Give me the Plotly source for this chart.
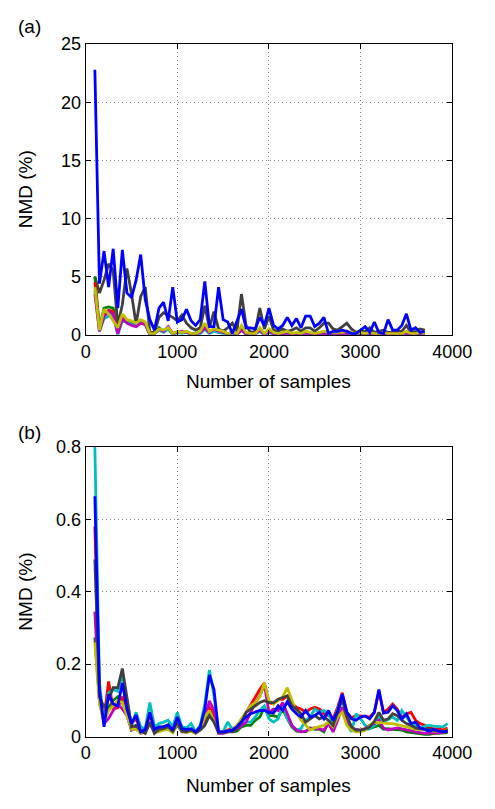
import plotly.graph_objects as go

# ---------------- data ----------------
samples_a = list(range(100, 3701, 50))
samples_b = list(range(100, 3951, 50))

a_blue = [22.8, 4.4, 7.2, 4.1, 7.4, 2.3, 7.3, 3.6, 3.2, 4.7,
          6.9, 3.0, 1.3, 0.4, 2.3, 2.8, 1.2, 4.1, 1.1, 1.3,
          2.2, 1.2, 0.8, 1.3, 4.6, 0.7, 0.7, 4.1, 1.3, 1.1,
          0.1, 1.2, 2.2, 0.6, 0.6, 0.5, 1.5, 0.8, 2.3, 0.8,
          0.5, 0.8, 1.5, 0.8, 1.4, 0.6, 1.6, 1.6, 0.7, 1.0,
          1.5, 0.1, 0.3, 0.3, 0.4, 0.3, 0.1, 0.1, 0.4, 0.7,
          0.2, 1.1, 0.2, 0.1, 1.3, 0.4, 0.4, 0.8, 1.8, 0.4,
          0.6, 0.2, 0.3]
a_gray = [5.0, 3.6, 4.7, 6.1, 5.5, 0.8, 2.6, 5.7, 3.5, 0.9,
          3.3, 4.1, 0.2, 0.2, 1.5, 1.9, 1.7, 1.5, 1.2, 1.7,
          1.0, 0.6, 0.4, 0.6, 2.5, 0.6, 2.0, 0.5, 0.3, 0.6,
          1.0, 0.3, 3.5, 0.8, 0.2, 0.3, 2.3, 0.5, 1.6, 0.4,
          0.3, 0.5, 0.3, 0.4, 0.6, 0.3, 0.6, 0.6, 0.3, 0.6,
          1.0, 1.0, 0.5, 0.4, 0.7, 1.0, 0.5, 0.2, 0.3, 0.3,
          0.6, 0.2, 0.3, 0.4, 0.2, 0.2, 0.3, 0.3, 0.8, 0.2,
          0.3, 0.5, 0.4]
a_green = [5.0, 0.6, 2.3, 2.4, 2.3, 0.3, 1.7, 1.2, 1.0, 0.8,
           1.1, 1.0, 0.1, 0.1, 0.6, 0.3, 0.5, 0.1, 0.2, 0.2,
           0.2, 0.1, 0.1, 0.2, 0.6, 0.2, 0.3, 0.3, 0.2, 0.1,
           0.1, 0.1, 0.5, 0.1, 0.1, 0.1, 0.4, 0.1, 0.3, 0.1,
           0.1, 0.1, 0.2, 0.1, 0.1, 0.1, 0.2, 0.1, 0.1, 0.1,
           0.2, 0.1, 0.1, 0.1, 0.1, 0.2, 0.1, 0.1, 0.1, 0.1,
           0.1, 0.1, 0.1, 0.1, 0.1, 0.1, 0.1, 0.1, 0.2, 0.1,
           0.1, 0.1, 0.1]
a_red = [4.5, 0.5, 1.8, 2.1, 2.0, 0.2, 1.5, 1.1, 0.9, 0.8,
         1.0, 0.9, 0.1, 0.1, 0.4, 0.3, 0.6, 0.1, 0.2, 0.2,
         0.2, 0.1, 0.1, 0.2, 0.5, 0.2, 0.4, 0.3, 0.2, 0.1,
         0.1, 0.1, 0.5, 0.1, 0.1, 0.1, 0.3, 0.1, 0.3, 0.1,
         0.1, 0.1, 0.2, 0.1, 0.1, 0.1, 0.2, 0.1, 0.1, 0.1,
         0.1, 0.1, 0.1, 0.1, 0.1, 0.1, 0.1, 0.1, 0.1, 0.1,
         0.1, 0.1, 0.1, 0.1, 0.1, 0.1, 0.1, 0.1, 0.1, 0.1,
         0.1, 0.1, 0.1]
a_magenta = [3.5, 0.3, 1.6, 2.0, 1.8, 0.1, 1.4, 1.0, 0.8, 0.7,
             1.0, 0.9, 0.0, 0.1, 0.5, 0.3, 0.7, 0.1, 0.2, 0.3,
             0.2, 0.1, 0.1, 0.2, 0.6, 0.2, 0.5, 0.3, 0.2, 0.1,
             0.2, 0.0, 0.4, 0.1, 0.0, 0.1, 0.4, 0.0, 0.3, 0.1,
             0.0, 0.1, 0.1, 0.1, 0.1, 0.0, 0.1, 0.1, 0.0, 0.1,
             0.1, 0.0, 0.0, 0.1, 0.1, 0.1, 0.0, 0.0, 0.1, 0.0,
             0.1, 0.0, 0.0, 0.1, 0.0, 0.0, 0.1, 0.0, 0.1, 0.0,
             0.0, 0.1, 0.0]
a_cyan = [3.8, 0.3, 1.4, 1.6, 1.7, 0.0, 1.2, 1.1, 0.9, 0.8,
          1.1, 1.0, 0.0, 0.1, 0.4, 0.2, 0.5, 0.0, 0.2, 0.1,
          0.2, 0.0, 0.1, 0.1, 0.5, 0.1, 0.3, 0.2, 0.1, 0.0,
          0.1, 0.0, 0.4, 0.0, 0.0, 0.1, 0.3, 0.0, 0.2, 0.0,
          0.0, 0.1, 0.1, 0.0, 0.1, 0.0, 0.1, 0.0, 0.0, 0.1,
          0.1, 0.0, 0.0, 0.0, 0.1, 0.1, 0.0, 0.0, 0.0, 0.0,
          0.1, 0.0, 0.0, 0.0, 0.0, 0.0, 0.0, 0.0, 0.1, 0.0,
          0.0, 0.0, 0.0]
a_yellow = [4.1, 0.4, 2.2, 1.8, 1.2, 0.6, 1.8, 1.3, 1.2, 1.0,
            1.3, 1.1, 0.1, 0.1, 0.5, 0.4, 0.6, 0.1, 0.3, 0.2,
            0.3, 0.1, 0.1, 0.3, 1.0, 0.3, 0.5, 0.4, 0.3, 0.1,
            0.2, 0.1, 0.8, 0.2, 0.1, 0.1, 0.6, 0.1, 0.5, 0.2,
            0.1, 0.2, 0.3, 0.1, 0.2, 0.1, 0.3, 0.2, 0.1, 0.2,
            0.3, 0.2, 0.2, 0.2, 0.2, 0.3, 0.2, 0.1, 0.2, 0.1,
            0.2, 0.1, 0.1, 0.2, 0.1, 0.1, 0.1, 0.1, 0.3, 0.1,
            0.1, 0.2, 0.1]

b_blue = [0.664, 0.13, 0.027, 0.117, 0.090, 0.085, 0.148, 0.076, 0.036, 0.060,
          0.013, 0.020, 0.067, 0.020, 0.027, 0.027, 0.033, 0.018, 0.054, 0.022,
          0.020, 0.022, 0.013, 0.027, 0.076, 0.170, 0.130, 0.013, 0.013, 0.015,
          0.018, 0.027, 0.040, 0.054, 0.063, 0.067, 0.072, 0.072, 0.067, 0.065,
          0.085, 0.072, 0.096, 0.076, 0.063, 0.054, 0.072, 0.054, 0.058, 0.067,
          0.049, 0.072, 0.045, 0.070, 0.117, 0.068, 0.049, 0.045, 0.054, 0.057,
          0.049, 0.067, 0.130, 0.065, 0.067, 0.085, 0.072, 0.048, 0.063, 0.036,
          0.040, 0.024, 0.020, 0.015, 0.020, 0.015, 0.013, 0.015]
b_red = [0.58, 0.12, 0.05, 0.152, 0.076, 0.080, 0.110, 0.085, 0.036, 0.050,
         0.015, 0.018, 0.060, 0.022, 0.025, 0.027, 0.030, 0.018, 0.045, 0.020,
         0.018, 0.020, 0.013, 0.025, 0.060, 0.080, 0.060, 0.013, 0.013, 0.018,
         0.022, 0.027, 0.045, 0.067, 0.085, 0.110, 0.130, 0.148, 0.094, 0.090,
         0.103, 0.103, 0.112, 0.090, 0.081, 0.076, 0.067, 0.076, 0.081, 0.076,
         0.063, 0.058, 0.050, 0.081, 0.121, 0.067, 0.052, 0.058, 0.058, 0.056,
         0.054, 0.067, 0.125, 0.067, 0.076, 0.090, 0.076, 0.054, 0.063, 0.067,
         0.045, 0.036, 0.031, 0.024, 0.021, 0.021, 0.018, 0.024]
b_cyan = [0.80, 0.15, 0.035, 0.121, 0.130, 0.125, 0.170, 0.103, 0.031, 0.067,
          0.027, 0.021, 0.094, 0.027, 0.036, 0.040, 0.045, 0.027, 0.067, 0.027,
          0.024, 0.036, 0.013, 0.031, 0.090, 0.184, 0.112, 0.013, 0.013, 0.040,
          0.020, 0.022, 0.030, 0.040, 0.040, 0.054, 0.072, 0.085, 0.049, 0.040,
          0.049, 0.085, 0.049, 0.031, 0.018, 0.022, 0.045, 0.054, 0.076, 0.067,
          0.072, 0.063, 0.036, 0.072, 0.112, 0.036, 0.013, 0.063, 0.049, 0.031,
          0.022, 0.031, 0.054, 0.040, 0.047, 0.054, 0.045, 0.072, 0.054, 0.036,
          0.029, 0.022, 0.029, 0.031, 0.029, 0.027, 0.027, 0.036]
b_magenta = [0.345, 0.10, 0.036, 0.050, 0.072, 0.090, 0.076, 0.058, 0.018, 0.024,
             0.009, 0.013, 0.036, 0.013, 0.018, 0.018, 0.020, 0.013, 0.036, 0.013,
             0.013, 0.018, 0.009, 0.020, 0.050, 0.099, 0.072, 0.009, 0.009, 0.013,
             0.015, 0.020, 0.031, 0.040, 0.067, 0.094, 0.112, 0.144, 0.067, 0.076,
             0.072, 0.094, 0.063, 0.031, 0.018, 0.013, 0.015, 0.022, 0.024, 0.020,
             0.018, 0.036, 0.013, 0.045, 0.081, 0.040, 0.022, 0.020, 0.018, 0.022,
             0.031, 0.036, 0.045, 0.024, 0.018, 0.021, 0.024, 0.021, 0.018, 0.015,
             0.013, 0.011, 0.009, 0.009, 0.011, 0.011, 0.011, 0.015]
b_green = [0.274, 0.10, 0.045, 0.080, 0.100, 0.110, 0.094, 0.063, 0.018, 0.022,
           0.013, 0.011, 0.040, 0.015, 0.018, 0.020, 0.022, 0.015, 0.031, 0.015,
           0.013, 0.015, 0.011, 0.020, 0.045, 0.058, 0.050, 0.011, 0.013, 0.013,
           0.013, 0.015, 0.027, 0.031, 0.031, 0.045, 0.054, 0.081, 0.058, 0.058,
           0.054, 0.076, 0.049, 0.027, 0.015, 0.015, 0.013, 0.024, 0.020, 0.020,
           0.013, 0.040, 0.022, 0.054, 0.076, 0.036, 0.020, 0.018, 0.015, 0.020,
           0.022, 0.027, 0.031, 0.020, 0.022, 0.020, 0.020, 0.018, 0.013, 0.011,
           0.011, 0.009, 0.006, 0.006, 0.009, 0.009, 0.009, 0.011]
b_yellow = [0.26, 0.09, 0.040, 0.072, 0.085, 0.099, 0.094, 0.058, 0.020, 0.020,
            0.009, 0.018, 0.040, 0.013, 0.013, 0.018, 0.020, 0.011, 0.036, 0.015,
            0.011, 0.015, 0.009, 0.022, 0.054, 0.072, 0.040, 0.011, 0.013, 0.015,
            0.018, 0.031, 0.050, 0.067, 0.085, 0.094, 0.110, 0.148, 0.099, 0.090,
            0.099, 0.110, 0.135, 0.103, 0.067, 0.045, 0.031, 0.018, 0.024, 0.027,
            0.031, 0.040, 0.027, 0.054, 0.067, 0.031, 0.018, 0.013, 0.013, 0.018,
            0.031, 0.040, 0.040, 0.038, 0.036, 0.036, 0.033, 0.031, 0.027, 0.024,
            0.020, 0.020, 0.018, 0.018, 0.015, 0.015, 0.013, 0.020]
b_gray = [0.489, 0.11, 0.081, 0.103, 0.135, 0.135, 0.188, 0.103, 0.027, 0.031,
          0.015, 0.009, 0.040, 0.009, 0.020, 0.022, 0.027, 0.015, 0.040, 0.015,
          0.013, 0.018, 0.011, 0.018, 0.031, 0.058, 0.040, 0.011, 0.011, 0.015,
          0.013, 0.022, 0.040, 0.067, 0.076, 0.085, 0.094, 0.099, 0.094, 0.094,
          0.103, 0.108, 0.112, 0.085, 0.076, 0.063, 0.040, 0.049, 0.058, 0.049,
          0.054, 0.045, 0.031, 0.067, 0.103, 0.058, 0.027, 0.018, 0.018, 0.021,
          0.027, 0.042, 0.067, 0.045, 0.049, 0.063, 0.058, 0.045, 0.036, 0.031,
          0.024, 0.021, 0.022, 0.021, 0.018, 0.015, 0.013, 0.018]

x_ticks = [0, 1000, 2000, 3000, 4000]
a_ticks = [0, 5, 10, 15, 20, 25]
b_ticks = [0, 0.2, 0.4, 0.6, 0.8]
b_tick_labels = ["0", "0.2", "0.4", "0.6", "0.8"]

# ---------------- style ----------------
C_BLUE = "#0000ff"
C_RED = "#ff0000"
C_GREEN = "#008000"
C_MAGENTA = "#bf00bf"
C_CYAN = "#00bfbf"
C_YELLOW = "#bfbf00"
C_GRAY = "#404040"
LW = 2.8
FONT = "Liberation Sans, Arial, Helvetica, sans-serif"

fig = go.Figure()

series_a = [(a_gray, C_GRAY), (a_green, C_GREEN), (a_red, C_RED), (a_cyan, C_CYAN),
            (a_magenta, C_MAGENTA), (a_yellow, C_YELLOW), (a_blue, C_BLUE)]
for ys, col in series_a:
    fig.add_trace(go.Scatter(x=samples_a, y=ys, mode="lines", xaxis="x", yaxis="y",
                             line=dict(color=col, width=LW), showlegend=False))

series_b = [(b_green, C_GREEN), (b_red, C_RED), (b_cyan, C_CYAN), (b_magenta, C_MAGENTA),
            (b_yellow, C_YELLOW), (b_gray, C_GRAY), (b_blue, C_BLUE)]
for ys, col in series_b:
    fig.add_trace(go.Scatter(x=samples_b, y=ys, mode="lines", xaxis="x2", yaxis="y2",
                             line=dict(color=col, width=LW), showlegend=False))

W, H = 495, 809
x0, x1 = 85, 471
a_top, a_bot = 35, 333
b_top, b_bot = 448, 745

axis_common = dict(
    showline=True, linecolor="black", linewidth=1.3, mirror="allticks",
    ticks="inside", ticklen=5, tickcolor="black", tickwidth=1,
    showgrid=True, gridcolor="#8c8c8c", griddash="1px,3px", gridwidth=1,
    zeroline=False, tickfont=dict(family=FONT, size=18, color="black"),
)

fig.update_layout(
    width=W, height=H,
    margin=dict(l=0, r=0, t=0, b=0),
    paper_bgcolor="white", plot_bgcolor="white",
    font=dict(family=FONT, color="black"),
    xaxis=dict(domain=[x0 / W, x1 / W], range=[0, 4000], tickvals=x_ticks,
               anchor="y", **axis_common),
    yaxis=dict(domain=[1 - a_bot / H, 1 - a_top / H], range=[0, 25], tickvals=a_ticks,
               anchor="x", **axis_common),
    xaxis2=dict(domain=[x0 / W, x1 / W], range=[0, 4000], tickvals=x_ticks,
                anchor="y2", **axis_common),
    yaxis2=dict(domain=[1 - b_bot / H, 1 - b_top / H], range=[0, 0.8], tickvals=b_ticks,
                ticktext=b_tick_labels, anchor="x2", **axis_common),
)

ann_font = dict(family=FONT, size=19, color="black")
annotations = [
    dict(text="(a)", x=12 / W, y=1 - 17 / H, xanchor="left", yanchor="middle"),
    dict(text="(b)", x=12 / W, y=1 - 433 / H, xanchor="left", yanchor="middle"),
    dict(text="Number of samples", x=(x0 + x1) / 2 / W, y=1 - 381 / H,
         xanchor="center", yanchor="middle"),
    dict(text="Number of samples", x=(x0 + x1) / 2 / W, y=1 - 795 / H,
         xanchor="center", yanchor="middle"),
    dict(text="NMD (%)", x=22 / W, y=1 - ((a_top + a_bot) / 2) / H, textangle=-90,
         xanchor="center", yanchor="middle"),
    dict(text="NMD (%)", x=22 / W, y=1 - ((b_top + b_bot) / 2) / H, textangle=-90,
         xanchor="center", yanchor="middle"),
]
for a in annotations:
    fig.add_annotation(xref="paper", yref="paper", showarrow=False, font=ann_font, **a)

fig.write_html("out.html")
